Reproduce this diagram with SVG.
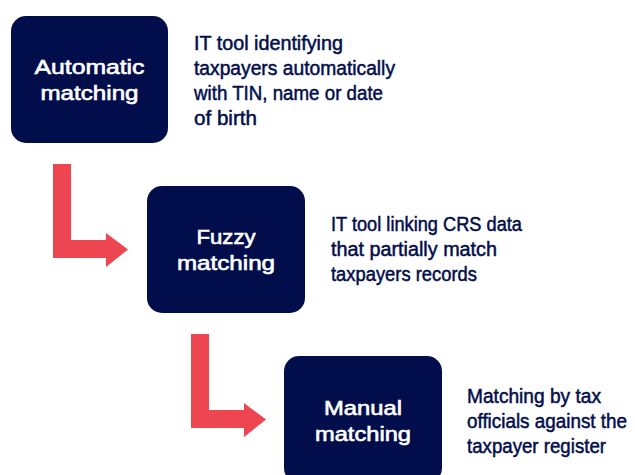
<svg xmlns="http://www.w3.org/2000/svg" width="635" height="475" viewBox="0 0 635 475">
<style>
.box{fill:#020E4C}
.lbl{fill:#FFFFFF;stroke:#FFFFFF;stroke-width:0.6;font-family:"Liberation Sans",Arial,sans-serif;font-size:20px;text-anchor:middle}
.desc{fill:#020E4C;stroke:#020E4C;stroke-width:0.5;font-family:"Liberation Sans",Arial,sans-serif;font-size:20px}
.arrow{fill:#EE4651}
</style>
<rect width="635" height="475" fill="#FFFFFF"/>
<g id="connectors">
<path class="arrow" d="M53,164 H71 V240 H106 V233 L128,249.5 L106,267 V258 H53 Z"/>
<path class="arrow" d="M191,334 H209 V410 H244 V403 L266,419.5 L244,437 V428 H191 Z"/>
</g>
<g id="node-automatic">
<rect class="box" x="11" y="16" width="157" height="127" rx="15"/>
<text class="lbl"><tspan x="89.5" y="74" textLength="110" lengthAdjust="spacingAndGlyphs">Automatic</tspan><tspan x="89.5" y="100" textLength="98" lengthAdjust="spacingAndGlyphs">matching</tspan></text>
<text class="desc"><tspan x="194" y="50" textLength="149" lengthAdjust="spacingAndGlyphs">IT tool identifying</tspan><tspan x="194" y="75" textLength="201" lengthAdjust="spacingAndGlyphs">taxpayers automatically</tspan><tspan x="194" y="100" textLength="189" lengthAdjust="spacingAndGlyphs">with TIN, name or date</tspan><tspan x="194" y="125" textLength="63" lengthAdjust="spacingAndGlyphs">of birth</tspan></text>
</g>
<g id="node-fuzzy">
<rect class="box" x="147" y="186" width="158" height="127" rx="15"/>
<text class="lbl"><tspan x="226" y="244" textLength="59" lengthAdjust="spacingAndGlyphs">Fuzzy</tspan><tspan x="226" y="270" textLength="98" lengthAdjust="spacingAndGlyphs">matching</tspan></text>
<text class="desc"><tspan x="331" y="231" textLength="191" lengthAdjust="spacingAndGlyphs">IT tool linking CRS data</tspan><tspan x="331" y="256" textLength="166" lengthAdjust="spacingAndGlyphs">that partially match</tspan><tspan x="331" y="281" textLength="146" lengthAdjust="spacingAndGlyphs">taxpayers records</tspan></text>
</g>
<g id="node-manual">
<rect class="box" x="284" y="356" width="158" height="127" rx="15"/>
<text class="lbl"><tspan x="363" y="415" textLength="78" lengthAdjust="spacingAndGlyphs">Manual</tspan><tspan x="363" y="441" textLength="96" lengthAdjust="spacingAndGlyphs">matching</tspan></text>
<text class="desc"><tspan x="467" y="403" textLength="134" lengthAdjust="spacingAndGlyphs">Matching by tax</tspan><tspan x="467" y="428" textLength="160" lengthAdjust="spacingAndGlyphs">officials against the</tspan><tspan x="467" y="453" textLength="139" lengthAdjust="spacingAndGlyphs">taxpayer register</tspan></text>
</g>
</svg>
